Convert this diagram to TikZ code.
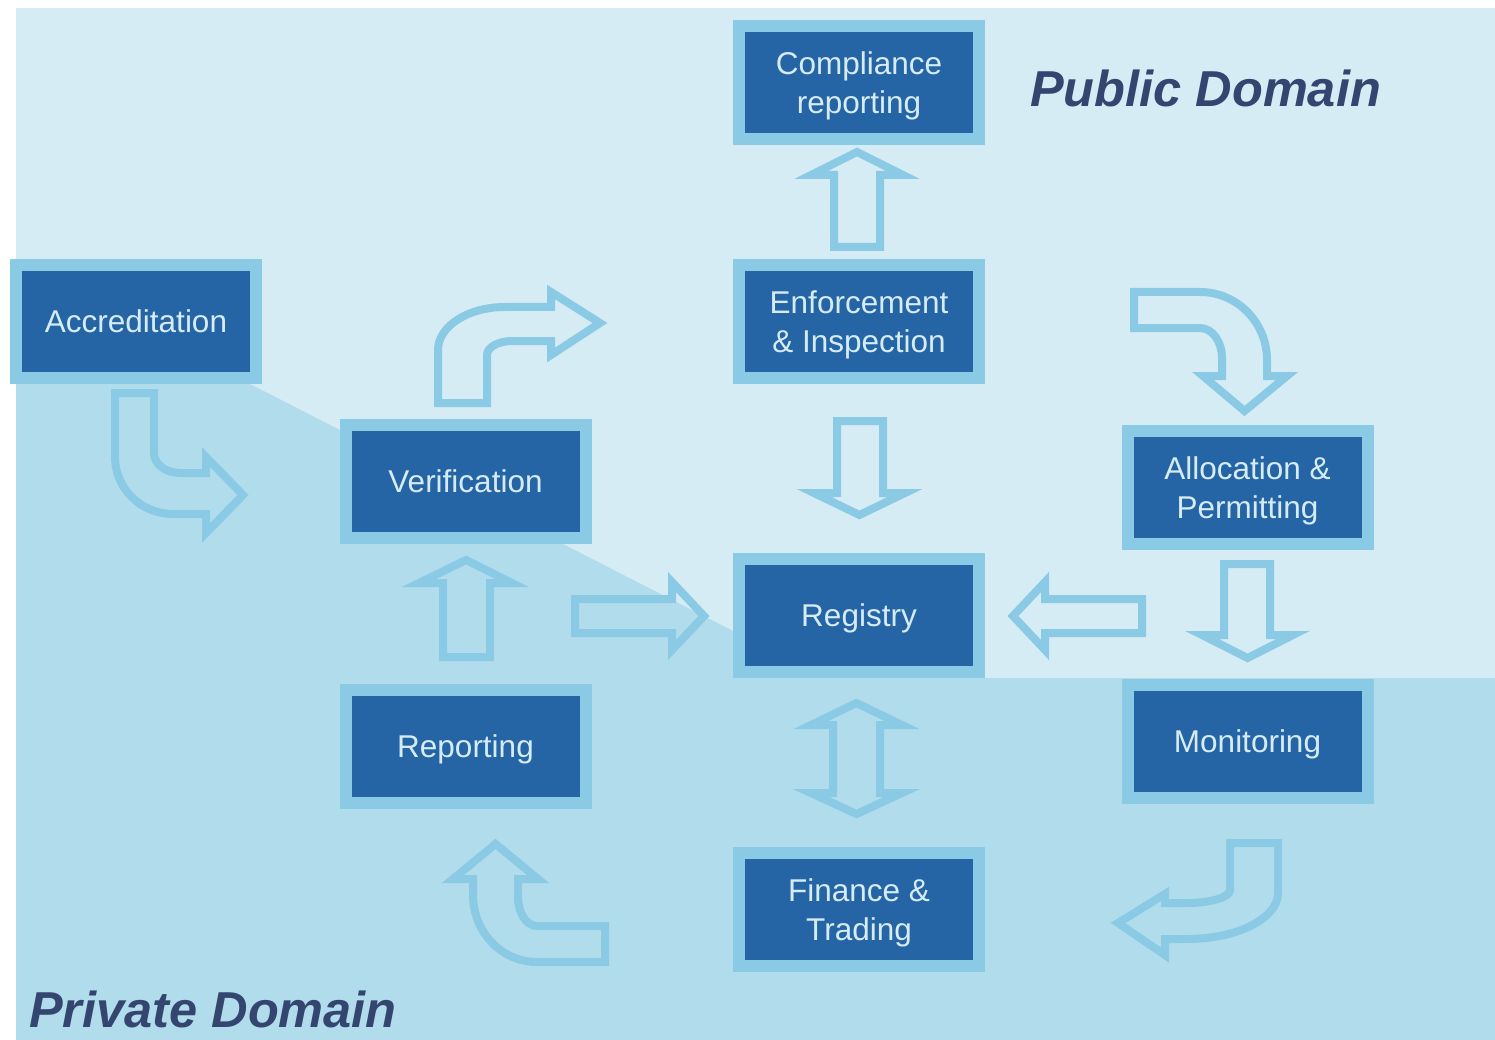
\documentclass[tikz,border=0pt]{standalone}
\usepackage{fontspec}
\setmainfont{Liberation Sans}
\usetikzlibrary{calc}

\definecolor{publicbg}{RGB}{214,236,245}
\definecolor{privatebg}{RGB}{177,220,236}
\definecolor{rim}{RGB}{138,202,229}
\definecolor{stagefill}{RGB}{37,101,165}
\definecolor{domaintext}{RGB}{52,70,112}

\begin{document}
\begin{tikzpicture}[x=1pt,y=-1pt,
  stage/.style={rectangle,fill=stagefill,draw=rim,line width=12pt,
    minimum width=240pt,minimum height=113pt,inner sep=0pt,align=center,
    text depth=0pt,text=publicbg,font=\fontsize{31.5}{39}\selectfont},
  domainlabel/.style={anchor=base west,inner sep=0pt,text=domaintext,
    font=\fontsize{50.5}{60}\selectfont\bfseries\itshape},
  blockarrow/.style={draw=rim,line width=8pt,line join=miter}]

  \useasboundingbox (0,0) rectangle (1495,1040);

  % Domains

  \fill[publicbg] (16,8) rectangle (1495,1040);
  \fill[privatebg] (16,384) -- (250,384) -- (735,632) -- (735,678)
    -- (1495,678) -- (1495,1040) -- (16,1040) -- cycle;

  \node[domainlabel] (pub) at (1030,107) {Public Domain};
  \node[domainlabel] (priv) at (29,1027) {Private Domain};

  % Stages

  \node[stage] (acc) at (136,321.5) {Accreditation};
  \node[stage] (comp) at (859,82.5) {Compliance\\reporting};
  \node[stage] (enf) at (859,321.5) {Enforcement\\\& Inspection};
  \node[stage] (ver) at (465.5,481.5) {Verification};
  \node[stage] (reg) at (859,615.5) {Registry};
  \node[stage] (rep) at (465.5,746.5) {Reporting};
  \node[stage] (alloc) at (1247.5,487.5) {Allocation \&\\Permitting};
  \node[stage] (mon) at (1247.5,741.5) {Monitoring};
  \node[stage] (fin) at (859,909.5) {Finance \&\\Trading};

  % Straight arrows

  \draw[blockarrow] (834,247) -- (834,175) -- (811,175) -- (857,152)
    -- (903,175) -- (880,175) -- (880,247) -- cycle;
  \draw[blockarrow] (837,421) -- (837,493) -- (814,493) -- (859.5,515)
    -- (905,493) -- (883,493) -- (883,421) -- cycle;
  \draw[blockarrow] (833,793) -- (833,725) -- (811,725) -- (856.5,703)
    -- (902,725) -- (880,725) -- (880,793) -- (902,793) -- (856.5,814)
    -- (811,793) -- cycle;
  \draw[blockarrow] (443,657) -- (443,583) -- (419,583) -- (466,560)
    -- (512,583) -- (490,583) -- (490,657) -- cycle;
  \draw[blockarrow] (575,599) -- (672,599) -- (672,582) -- (704,616)
    -- (672,650) -- (672,633) -- (575,633) -- cycle;
  \draw[blockarrow] (1142,599) -- (1045,599) -- (1045,582) -- (1013,616)
    -- (1045,650) -- (1045,633) -- (1142,633) -- cycle;
  \draw[blockarrow] (1224,564) -- (1224,635) -- (1202,635) -- (1247.5,658)
    -- (1293,635) -- (1270,635) -- (1270,564) -- cycle;

  % Bent arrows

  \draw[blockarrow] (115,393) -- (154,393) -- (154,453)
    arc[start angle=180,end angle=90,x radius=26,y radius=20]
    -- (206,473) -- (206,457) -- (243,495) -- (206,533) -- (206,514)
    -- (173,514) arc[start angle=90,end angle=180,x radius=58,y radius=57]
    -- cycle;
  \draw[blockarrow] (438,403) -- (438,350)
    arc[start angle=180,end angle=270,x radius=67,y radius=43]
    -- (551,307) -- (551,292) -- (600,323) -- (551,355) -- (551,341)
    -- (512,341) arc[start angle=270,end angle=180,x radius=25,y radius=14]
    -- (487,403) -- cycle;
  \draw[blockarrow] (1134,292) -- (1200,292)
    arc[start angle=270,end angle=360,x radius=67,y radius=68]
    -- (1267,376) -- (1287,376) -- (1244.5,411) -- (1203,376) -- (1222,376)
    -- (1222,358) arc[start angle=0,end angle=-90,x radius=22,y radius=30]
    -- (1134,328) -- cycle;
  \draw[blockarrow] (1230,843) -- (1278,843) -- (1278,893)
    arc[start angle=0,end angle=90,x radius=91,y radius=46]
    -- (1165,939) -- (1165,955) -- (1118,923) -- (1165,894) -- (1165,903)
    -- (1187,903) arc[start angle=90,end angle=0,x radius=43,y radius=13]
    -- cycle;
  \draw[blockarrow] (605,926) -- (537,926)
    arc[start angle=90,end angle=180,x radius=19,y radius=29]
    -- (518,879) -- (538,879) -- (495.5,844) -- (453,879) -- (473,879)
    -- (473,895) arc[start angle=180,end angle=90,x radius=64,y radius=67]
    -- (605,962) -- cycle;
\end{tikzpicture}
\end{document}
